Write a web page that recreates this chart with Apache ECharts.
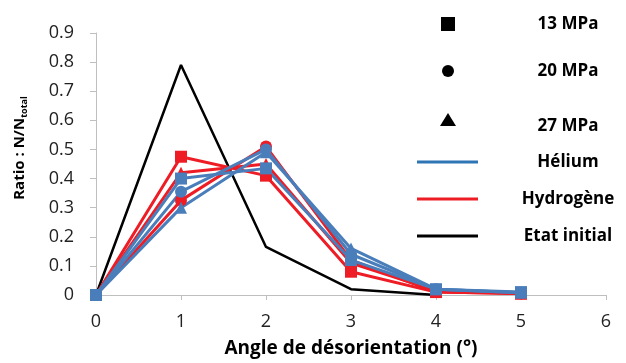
<!DOCTYPE html>
<html><head><meta charset="utf-8">
<script src="https://cdn.jsdelivr.net/npm/echarts@6/dist/echarts.min.js"></script>
<style>html,body{margin:0;padding:0;background:#fff}#c{width:626px;height:363px}</style>
</head><body><div id="c"></div>
<script>
const angles = [0, 1, 2, 3, 4, 5];
const h2_13 = [0, 0.475, 0.41, 0.08, 0.01, 0.005];
const h2_20 = [0, 0.325, 0.51, 0.12, 0.01, 0.005];
const h2_27 = [0, 0.42, 0.45, 0.11, 0.015, 0.005];
const he_13 = [0, 0.40, 0.435, 0.12, 0.02, 0.01];
const he_20 = [0, 0.355, 0.50, 0.14, 0.02, 0.008];
const he_27 = [0, 0.30, 0.49, 0.16, 0.02, 0.008];
const initial = [0, 0.79, 0.165, 0.02, 0.0];
const legendLabels = ['13 MPa', '20 MPa', '27 MPa', 'Hélium', 'Hydrogène', 'Etat initial'];

const RED = '#ee1c25', BLUE = '#4a7ebb';
const pts = arr => arr.map((v, i) => [angles[i], v]);
function s(name, data, color, symbol, size) {
  return { name, type: 'line', data: pts(data), symbol, symbolSize: size,
    lineStyle: { color, width: 3 }, itemStyle: { color }, z: 3 };
}
const series = [
  { name: 'init', type: 'line', data: pts(initial), symbol: 'none', lineStyle: { color: '#000', width: 2.5 }, z: 2 },
  s('h2_13', h2_13, RED, 'rect', 12),
  s('h2_20', h2_20, RED, 'circle', 12),
  s('h2_27', h2_27, RED, 'triangle', 12),
  s('he_13', he_13, BLUE, 'rect', 12),
  s('he_20', he_20, BLUE, 'circle', 12),
  s('he_27', he_27, BLUE, 'triangle', 12)
];
const F = 'Open Sans, Liberation Sans, sans-serif';
const legY = [24, 71, 122, 162, 199, 236];
const graphic = [];
const mk = [
  { type: 'rect', shape: { x: 441, y: legY[0] - 7, width: 14, height: 14 } },
  { type: 'circle', shape: { cx: 448, cy: legY[1], r: 6 } },
  { type: 'polygon', shape: { points: [[448, legY[2] - 9], [456, legY[2] + 4], [440, legY[2] + 4]] } }
];
mk.forEach(m => { m.style = { fill: '#000' }; graphic.push(m); });
[['#2e75b6', 3], ['#ee1c25', 3], ['#000', 3]].forEach((c, i) => {
  graphic.push({ type: 'line', shape: { x1: 417, y1: legY[3 + i], x2: 478, y2: legY[3 + i] },
    style: { stroke: c[0], lineWidth: c[1] } });
});
legendLabels.forEach((t, i) => {
  graphic.push({ type: 'text', x: 568, y: legY[i] + (i === 2 ? 4 : 0),
    style: { text: t, font: 'bold 17px ' + F, fill: '#000', align: 'center', verticalAlign: 'middle' } });
});
graphic.push({ type: 'text', x: 20, y: 148, rotation: Math.PI / 2,
  style: { rich: { a: { font: 'bold 15px ' + F, fill: '#000' }, b: { font: 'bold 9px ' + F, fill: '#000', padding: [9, 0, 0, 0] } },
    text: '{a|Ratio : N/N}{b|total}', align: 'center', verticalAlign: 'middle' } });

const chart = echarts.init(document.getElementById('c'));
chart.setOption({
  animation: false,
  grid: { left: 96, right: 20, top: 33, bottom: 66 },
  xAxis: { type: 'value', min: 0, max: 6, interval: 1,
    name: 'Angle de désorientation (°)', nameLocation: 'middle', nameGap: 44,
    nameTextStyle: { fontFamily: F, fontWeight: 'bold', fontSize: 19, color: '#000' },
    axisLine: { lineStyle: { color: '#bfbfbf', width: 1 } },
    axisTick: { show: true, length: 5, lineStyle: { color: '#bfbfbf' } },
    axisLabel: { fontFamily: F, fontSize: 18, color: '#222', margin: 18 },
    splitLine: { show: false } },
  yAxis: { type: 'value', min: 0, max: 0.9, interval: 0.1,
    axisLine: { show: true, lineStyle: { color: '#bfbfbf', width: 1 } },
    axisTick: { show: true, length: 6, lineStyle: { color: '#bfbfbf' } },
    axisLabel: { fontFamily: F, fontSize: 18, color: '#222', margin: 22 },
    splitLine: { show: false } },
  graphic,
  series
});
</script></body></html>
